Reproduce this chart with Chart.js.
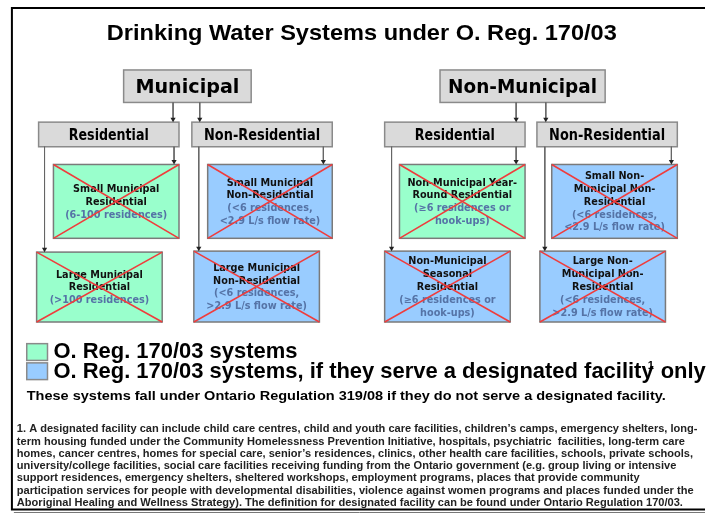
<!DOCTYPE html>
<html>
<head>
<meta charset="utf-8">
<script src="https://cdn.jsdelivr.net/npm/chart.js@4.4.1/dist/chart.umd.min.js"></script>
<style>
  html, body { margin: 0; padding: 0; background: #fff; }
  #diagram { display: block; }
</style>
</head>
<body>
<canvas id="diagram" width="709" height="517"></canvas>
<script>
// ---------------------------------------------------------------
// Texts of the diagram
// ---------------------------------------------------------------

const titleText = "Drinking Water Systems under O. Reg. 170/03";

const ownerLabels = ["Municipal", "Non-Municipal"];

const useLabels = ["Residential", "Non-Residential", "Residential", "Non-Residential"];

const systemNames = [
    ["Small Municipal", "Residential"],
    ["Small Municipal", "Non-Residential"],
    ["Large Municipal", "Residential"],
    ["Large Municipal", "Non-Residential"],
    ["Non-Municipal Year-", "Round Residential"],
    ["Small Non-", "Municipal Non-", "Residential"],
    ["Non-Municipal", "Seasonal", "Residential"],
    ["Large Non-", "Municipal Non-", "Residential"]
];

const systemRanges = [
    ["(6-100 residences)"],
    ["(<6 residences,", "<2.9 L/s flow rate)"],
    ["(>100 residences)"],
    ["(<6 residences,", ">2.9 L/s flow rate)"],
    ["(\u22656 residences or", "hook-ups)"],
    ["(<6 residences,", "<2.9 L/s flow rate)"],
    ["(\u22656 residences or", "hook-ups)"],
    ["(<6 residences,", ">2.9 L/s flow rate)"]
];

// 0 = O. Reg. 170/03 systems, 1 = only if serving a designated facility
const systemCategory = [0, 1, 0, 1, 0, 1, 1, 1];

const legendLabels = [
    "O. Reg. 170/03 systems",
    "O. Reg. 170/03 systems, if they serve a designated facility"
];
const legendSup = "1";
const legendTail = "only";

const noteText = "These systems fall under Ontario Regulation 319/08 if they do not serve a designated facility.";

const footnoteLines = [
    "1. A designated facility can include child care centres, child and youth care facilities, children\u2019s camps, emergency shelters, long-",
    "term housing funded under the Community Homelessness Prevention Initiative, hospitals, psychiatric  facilities, long-term care",
    "homes, cancer centres, homes for special care, senior\u2019s residences, clinics, other health care facilities, schools, private schools,",
    "university/college facilities, social care facilities receiving funding from the Ontario government (e.g. group living or intensive",
    "support residences, emergency shelters, sheltered workshops, employment programs, places that provide community",
    "participation services for people with developmental disabilities, violence against women programs and places funded under the",
    "Aboriginal Healing and Wellness Strategy). The definition for designated facility can be found under Ontario Regulation 170/03."
];

// ---------------------------------------------------------------
// Layout (page units, y grows downward)
// ---------------------------------------------------------------

const ownerBoxes = [[121, 67, 250, 100], [441, 67, 608, 100]];

const useBoxes = [[35, 120, 177, 145], [190, 120, 332, 145], [385, 120, 527, 145], [539, 120, 681, 145]];

const systemBoxes = [
    [50, 163, 177, 238],
    [206, 163, 332, 238],
    [33, 252, 160, 323],
    [192, 251, 319, 323],
    [400, 163, 527, 238],
    [554, 163, 681, 238],
    [385, 251, 512, 323],
    [542, 251, 669, 323]
];

// connectors: [x, yStart, yEnd]
const connectors = [
    [171, 100, 120], [198, 100, 120], [518, 100, 120], [548, 100, 120],
    [41, 145, 252], [172, 145, 163], [197, 145, 251], [323, 145, 163],
    [392, 145, 251], [518, 145, 163], [547, 145, 251], [675, 145, 163]
];

const fills = ["#99FFCC", "#99CCFF"];

// ---------------------------------------------------------------
// Datasets : connectors and red crosses
// ---------------------------------------------------------------

const datasets = [];

connectors.forEach(c => {
    datasets.push({
        data: [{x: c[0], y: c[1]}, {x: c[0], y: c[2] - 3}],
        showLine: true,
        borderColor: "#666666",
        borderWidth: 1,
        pointRadius: [0, 3],
        pointStyle: "triangle",
        rotation: 180,
        pointBackgroundColor: "#222222",
        pointBorderColor: "#222222",
        pointBorderWidth: 0
    });
});

systemBoxes.forEach(b => {
    [[b[0], b[1], b[2], b[3]], [b[0], b[3], b[2], b[1]]].forEach(d => {
        datasets.push({
            data: [{x: d[0], y: d[1]}, {x: d[2], y: d[3]}],
            showLine: true,
            borderColor: "#F03C3C",
            borderWidth: 1.6,
            pointRadius: 0
        });
    });
});

// ---------------------------------------------------------------
// Helpers
// ---------------------------------------------------------------

function fitText(ctx, s, x, y, font, color, align, width) {
    ctx.font = font;
    ctx.fillStyle = color;
    ctx.textAlign = align;
    ctx.textBaseline = "alphabetic";
    const k = width ? width / ctx.measureText(s).width : 1;
    ctx.save();
    ctx.translate(x, y);
    ctx.scale(k, 1);
    ctx.fillText(s, 0, 0);
    ctx.restore();
}

function drawBox(ctx, sx, sy, b, fill, stroke) {
    const x0 = sx.getPixelForValue(b[0]), y0 = sy.getPixelForValue(b[1]);
    const x1 = sx.getPixelForValue(b[2]), y1 = sy.getPixelForValue(b[3]);
    ctx.fillStyle = fill;
    ctx.fillRect(x0, y0, x1 - x0, y1 - y0);
    ctx.strokeStyle = stroke;
    ctx.lineWidth = 1.5;
    ctx.strokeRect(x0, y0, x1 - x0, y1 - y0);
}

// ---------------------------------------------------------------
// Plugin : frame, boxes and texts
// ---------------------------------------------------------------

const diagramPlugin = {
    id: "diagram",
    beforeDatasetsDraw(chart) {
        const ctx = chart.ctx;
        const sx = chart.scales.x, sy = chart.scales.y;
        const px = v => sx.getPixelForValue(v);
        const py = v => sy.getPixelForValue(v);

        // frame
        ctx.save();
        ctx.fillStyle = "#ffffff";
        ctx.fillRect(0, 0, chart.width, chart.height);
        ctx.strokeStyle = "#000000";
        ctx.lineWidth = 2;
        ctx.beginPath();
        ctx.moveTo(px(709), py(4));
        ctx.lineTo(px(8), py(4));
        ctx.lineTo(px(8), py(513.5));
        ctx.lineTo(px(709), py(513.5));
        ctx.stroke();
        ctx.strokeStyle = "#777777";
        ctx.lineWidth = 1;
        ctx.beginPath();
        ctx.moveTo(px(10), py(516.5));
        ctx.lineTo(px(709), py(516.5));
        ctx.stroke();

        // title
        fitText(ctx, titleText, px(104), py(37), "bold 22px 'Liberation Sans', Arial", "#000", "left", 510);

        // owner boxes
        ownerBoxes.forEach((b, i) => {
            drawBox(ctx, sx, sy, b, "#DADADA", "#8A8A8A");
            const w = i === 0 ? 104 : 149;
            fitText(ctx, ownerLabels[i], px((b[0] + b[2]) / 2), py(90), "bold 19px 'DejaVu Sans', Verdana", "#000", "center", w);
        });

        // use boxes
        useBoxes.forEach((b, i) => {
            drawBox(ctx, sx, sy, b, "#DADADA", "#8A8A8A");
            const w = i % 2 === 0 ? 80 : 116;
            fitText(ctx, useLabels[i], px((b[0] + b[2]) / 2), py(138), "bold 15px 'DejaVu Sans', Verdana", "#000", "center", w);
        });

        // system boxes
        systemBoxes.forEach((b, i) => {
            drawBox(ctx, sx, sy, b, fills[systemCategory[i]], "#7A7A7A");
            const lines = systemNames[i].map(t => [t, "#111111"])
                .concat(systemRanges[i].map(t => [t, "#5573A6"]));
            const cx = (b[0] + b[2]) / 2;
            const cy = (b[1] + b[3]) / 2;
            const top = cy - (lines.length - 1) * 13 / 2;
            lines.forEach((l, j) => {
                fitText(ctx, l[0], px(cx), py(top + j * 13 + 3.5), "bold 9.7px 'DejaVu Sans', Verdana", l[1], "center");
            });
        });

        // legend
        const legFont = "bold 22px 'Liberation Sans', Arial";
        ctx.font = legFont;
        const kl = 244 / ctx.measureText(legendLabels[0]).width;
        legendLabels.forEach((t, i) => {
            const y0 = 345 + i * 19.5;
            drawBox(ctx, sx, sy, [23, y0, 44, y0 + 17], fills[i], "#8A8A8A");
            ctx.font = legFont;
            const w = ctx.measureText(t).width * kl;
            fitText(ctx, t, px(50), py(y0 + 15), legFont, "#000", "left", w);
            if (i === 1) {
                fitText(ctx, legendSup, px(50 + w + 1), py(y0 + 6), "bold 11px 'Liberation Sans', Arial", "#000", "left");
                ctx.font = legFont;
                const wt = ctx.measureText(legendTail).width * kl;
                fitText(ctx, legendTail, px(50 + w + 14), py(y0 + 15), legFont, "#000", "left", wt);
            }
        });

        // note
        fitText(ctx, noteText, px(23), py(402), "bold 13px 'Liberation Sans', Arial", "#000", "left", 639);

        // footnote
        const fnFont = "bold 10.5px 'Liberation Sans', Arial";
        ctx.font = fnFont;
        const kf = 666 / ctx.measureText(footnoteLines[6]).width;
        footnoteLines.forEach((t, j) => {
            ctx.font = fnFont;
            const w = ctx.measureText(t).width * kf;
            fitText(ctx, t, px(13), py(435 + j * 12.5), fnFont, "#222", "left", w);
        });
        ctx.restore();
    }
};

// ---------------------------------------------------------------
// Chart
// ---------------------------------------------------------------

new Chart(document.getElementById("diagram"), {
    type: "scatter",
    data: { datasets: datasets },
    options: {
        responsive: false,
        animation: false,
        devicePixelRatio: 1,
        layout: { padding: 0 },
        scales: {
            x: { type: "linear", min: 0, max: 709, display: false },
            y: { type: "linear", min: 0, max: 517, reverse: true, display: false }
        },
        plugins: {
            legend: { display: false },
            tooltip: { enabled: false }
        },
        events: []
    },
    plugins: [diagramPlugin]
});
</script>
</body>
</html>
